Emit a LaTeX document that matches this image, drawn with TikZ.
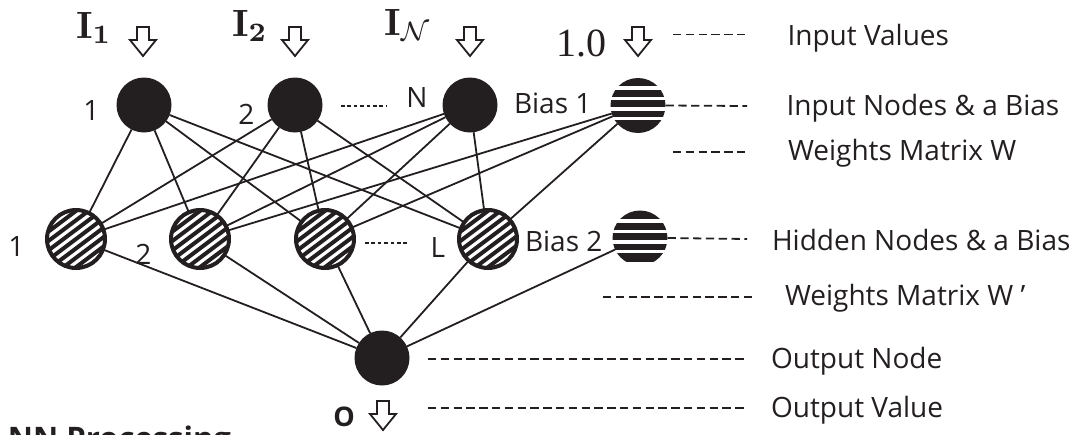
\documentclass[tikz,border=0pt]{standalone}
\usepackage[no-math]{fontspec}
\setmainfont{Open Sans}
\newfontfamily\numfont{Liberation Serif}
\definecolor{ink}{HTML}{231F20}

\tikzset{
  every node/.style={inner sep=0pt, outer sep=0pt, text=ink},
  wire/.style={draw=ink, line width=1.8pt},
  leader/.style={draw=ink, line width=1.8pt, dash pattern=on 8.3pt off 4.5pt},
  dotrow/.style={draw=ink, line width=1.8pt, dash pattern=on 3.6pt off 2.8pt},
  txt/.style={font=\fontsize{28}{34}\selectfont},
  solidnode/.style={circle, fill=ink, minimum size=55pt},
  hidnode/.style={circle, draw=ink, line width=4pt, fill=white, minimum size=58pt,
    path picture={
      \foreach \k in {-6,...,6}{
        \draw[ink, line width=4pt]
          ([shift={(\k*-4.5pt,\k*6pt)}]path picture bounding box.center)
            ++(-64pt,-48pt) -- ++(128pt,96pt);
      }}},
  biasnode/.style={circle, minimum size=55pt,
    path picture={
      \foreach \a/\b in {19.5/28, 8.5/15.5, -1.5/5.5, -11.5/-5.5, #1/-14.5}{
        \fill[ink] ([shift={(-30pt,\a pt)}]path picture bounding box.center)
          rectangle ([shift={(30pt,\b pt)}]path picture bounding box.center);
      }}},
  downarrow/.pic={
    \draw[ink, line width=1.8pt, fill=white, line join=miter]
      (-6,0) -- (6,0) -- (6,13) -- (13,13) -- (0,29) -- (-13,13) -- (-6,13) -- cycle;
  }
}

\begin{document}
\begin{tikzpicture}[x=1pt, y=-1pt]
\useasboundingbox (0,0) rectangle (1089,434);
\clip (0,0) rectangle (1089,434);

% input layer and its bias
\node[solidnode] (i1) at (144,105) {};
\node[solidnode] (i2) at (295,105) {};
\node[solidnode] (iN) at (470,105) {};
\node[biasnode=-28] (b1) at (638,105.5) {};

% hidden layer and its bias
\node[hidnode] (h1) at (76,239) {};
\node[hidnode] (h2) at (200,239) {};
\node[hidnode] (h3) at (325,239) {};
\node[hidnode] (hL) at (488,239) {};
\node[biasnode=-24] (b2) at (640,238) {};

% output node
\node[solidnode] (o) at (382,358) {};

% weights W
\foreach \a in {i1,i2,iN}
  \foreach \b in {h1,h2,h3,hL}
    \draw[wire] (\a) -- (\b);
\foreach \b in {h2,h3,hL}
  \draw[wire] (b1) -- (\b);

% weights W'
\foreach \a in {h1,h2,h3,hL,b2}
  \draw[wire] (\a) -- (o);

% input values
\node[anchor=base west] (v1) at (76,38) {\scalebox{3.8}{$\mathbf{I}_{\mathbf{1}}$}};
\node[anchor=base west] (v2) at (232,36) {\scalebox{3.8}{$\mathbf{I}_{\mathbf{2}}$}};
\node[anchor=base west] (vN) at (384,35) {\scalebox{3.8}{$\mathbf{I}_{\mathcal{N}}$}};
\node[anchor=base west, font=\fontsize{40}{42}\selectfont\numfont] (vb) at (556,56) {1.0};
\pic at (143,27) {downarrow};
\pic at (295,27) {downarrow};
\pic at (470,27) {downarrow};
\pic at (638,27) {downarrow};

% node numbering
\node[txt, anchor=base] (n1) at (91.5,120) {1};
\node[txt, anchor=base] (n2) at (246.5,124) {2};
\node[txt, anchor=base] (nN) at (417,107) {N};
\node[txt, anchor=base west] (nb1) at (514,113) {Bias 1};
\node[txt, anchor=base] (m1) at (16.5,256) {1};
\node[txt, anchor=base] (m2) at (143.5,264) {2};
\node[txt, anchor=base west] (mL) at (430.5,257) {L};
\node[txt, anchor=base west] (nb2) at (525,251) {Bias 2};

\coordinate (d1a) at (341,106);
\coordinate (d1b) at (387,106);
\draw[dotrow] (d1a) -- (d1b);
\coordinate (d2a) at (365,243);
\coordinate (d2b) at (408,243);
\draw[dotrow] (d2a) -- (d2b);

% output value
\node[anchor=base, font=\fontsize{27}{32}\selectfont\bfseries] (ov) at (344,426) {O};
\pic at (383,401) {downarrow};

% caption, running off the lower edge
\node[anchor=base west, font=\fontsize{31}{36}\selectfont\bfseries] (cap) at (8,449) {NN Processing};

% legend
\node[txt, anchor=base west] (t1) at (787.5,45) {Input Values};
\node[txt, anchor=base west] (t2) at (786.5,115) {Input Nodes \& a Bias};
\node[txt, anchor=base west] (t3) at (788,160) {Weights Matrix W};
\node[txt, anchor=base west] (t4) at (772,250) {Hidden Nodes \& a Bias};
\node[txt, anchor=base west] (t5) at (785,305) {Weights Matrix W ’};
\node[txt, anchor=base west] (t6) at (771,368) {Output Node};
\node[txt, anchor=base west] (t7) at (771,417) {Output Value};

\coordinate (l1a) at (673,34.5);  \coordinate (l1b) at (747,34.5);
\coordinate (l2b) at (747,106);
\coordinate (l3a) at (673,152);   \coordinate (l3b) at (747,152);
\coordinate (l4b) at (747,239);
\coordinate (l5a) at (603,297);   \coordinate (l5b) at (755,297);
\coordinate (l6a) at (428,359);   \coordinate (l6b) at (747,359);
\coordinate (l7a) at (428,408);   \coordinate (l7b) at (747,408);

\draw[leader] (l1a) -- (l1b);
\draw[leader] (b1.east) -- (l2b);
\draw[leader] (l3a) -- (l3b);
\draw[leader] (b2.east) -- (l4b);
\draw[leader] (l5a) -- (l5b);
\draw[leader] (l6a) -- (l6b);
\draw[leader] (l7a) -- (l7b);
\end{tikzpicture}
\end{document}
